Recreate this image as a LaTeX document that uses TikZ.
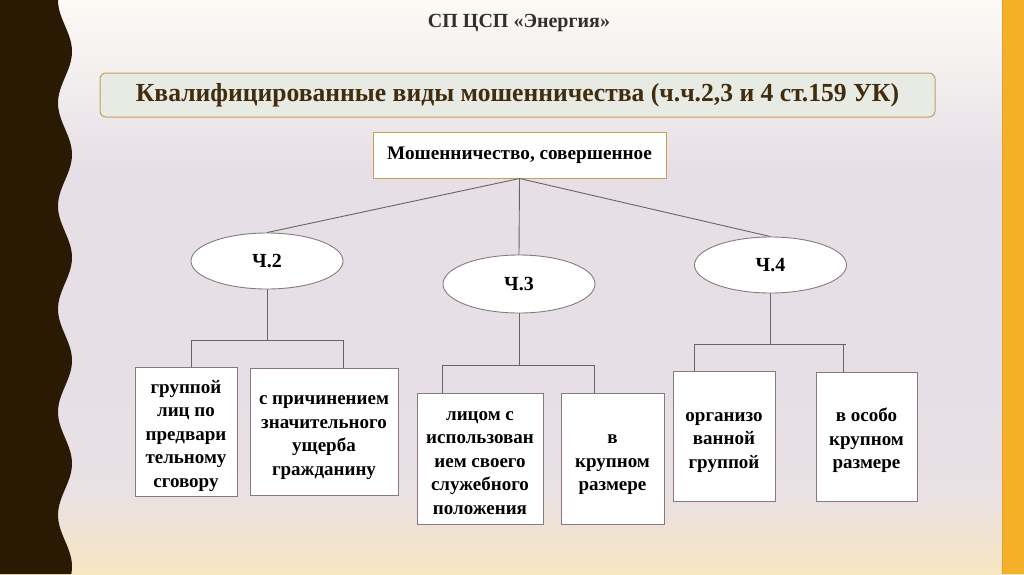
\documentclass[tikz,border=0pt]{standalone}
\usepackage{fontspec}
\setmainfont{Liberation Serif}
\usetikzlibrary{shapes.geometric,positioning}

\definecolor{stripbrown}{RGB}{42,26,4}
\definecolor{stripgold}{RGB}{244,176,40}
\definecolor{stripedge}{RGB}{226,160,36}
\definecolor{bgtop}{RGB}{252,250,245}
\definecolor{bgmid}{RGB}{230,223,230}
\definecolor{bgmidb}{RGB}{233,225,228}
\definecolor{bgbot}{RGB}{248,229,194}
\definecolor{headgray}{RGB}{50,48,46}
\definecolor{topicedge}{RGB}{196,160,90}
\definecolor{topicfill}{RGB}{232,234,228}
\definecolor{topictext}{RGB}{66,44,14}
\definecolor{rootedge}{RGB}{200,160,80}
\definecolor{boxedge}{RGB}{140,120,122}
\definecolor{linegray}{RGB}{105,100,100}

\pgfdeclareverticalshading{bgshade}{100bp}{color(0bp)=(bgbot); color(25bp)=(bgbot);
  color(32bp)=(bgmidb); color(42bp)=(bgmid); color(60bp)=(bgmid); color(75bp)=(bgtop); color(100bp)=(bgtop)}

\newcommand{\leaffont}{\fontsize{19}{23.5}\selectfont\bfseries}
% text of a leaf box, set a little low in its box
\newcommand{\leaftext}[1]{\raisebox{-4pt}[\height][\depth]{\begin{tabular}{@{}c@{}}#1\end{tabular}}}

\begin{document}
\begin{tikzpicture}[x=1pt, y=-1pt,
  link/.style={draw=linegray, line width=0.9pt},
  leaf/.style={draw=boxedge, fill=white, line width=0.9pt, align=center,
    font=\leaffont, inner sep=2pt},
  part/.style={ellipse, draw=boxedge, fill=white, line width=0.9pt,
    minimum width=152pt, minimum height=56pt, inner sep=0pt,
    font=\fontsize{20}{24}\selectfont\bfseries}]

  % Background and side strips
  \useasboundingbox (0,0) rectangle (1024,574);
  \shade[shading=bgshade] (0,0) rectangle (1024,574);
  \fill[stripbrown] (0,0) -- plot[domain=0:574, samples=160, variable=\t]
    ({65-7*cos(3.4951*\t)}, \t) -- (0,574) -- cycle;
  \fill[stripgold] (1002,0) rectangle (1024,574);
  \draw[stripedge, line width=1pt] (1002,0) -- (1002,574);

  % Headings
  \node[font=\fontsize{20}{24}\selectfont\bfseries, text=headgray] (head) at (519,23) {СП ЦСП «Энергия»};
  \node[draw=topicedge, fill=topicfill, rounded corners=6pt, line width=1pt,
    minimum width=835pt, minimum height=44pt, text=topictext,
    font=\fontsize{26}{30}\selectfont\bfseries] (topic) at (517.5,95)
    {\scalebox{0.985}[1]{Квалифицированные виды мошенничества (ч.ч.2,3 и 4 ст.159 УК)}};

  % Define nodes of the tree
  \node[draw=rootedge, fill=white, line width=1pt, minimum width=293pt, minimum height=46pt,
    font=\fontsize{19.2}{23}\selectfont\bfseries] (root) at (519.5,155)
    {Мошенничество, совершенное};
  \node[part] (p2) at (267,261) {Ч.2};
  \node[part, minimum height=58pt] (p3) at (519,284) {Ч.3};
  \node[part] (p4) at (770.5,265) {Ч.4};

  \node[leaf, minimum width=102pt, minimum height=129pt] (b21) at (186,431.5)
    {\leaftext{группой\\лиц по\\предвари\\тельному\\сговору}};
  \node[leaf, minimum width=148pt, minimum height=127pt] (b22) at (324,431.5)
    {\leaftext{с причинением\\значительного\\ущерба\\гражданину}};
  \node[leaf, minimum width=126pt, minimum height=131pt] (b31) at (480,458.5)
    {\leaftext{лицом с\\использован\\ием своего\\служебного\\положения}};
  \node[leaf, minimum width=103pt, minimum height=131pt] (b32) at (612.5,458.5)
    {\leaftext{в\\крупном\\размере}};
  \node[leaf, minimum width=102pt, minimum height=130pt] (b41) at (724,436)
    {\leaftext{организо\\ванной\\группой}};
  \node[leaf, minimum width=101pt, minimum height=129pt] (b42) at (866.5,436.5)
    {\leaftext{в особо\\крупном\\размере}};

  % Bar ends under each part
  \coordinate (h2l) at (191,340);
  \coordinate (h2r) at (343,340);
  \coordinate (h3l) at (442,365);
  \coordinate (h3r) at (594,365);
  \coordinate (h4l) at (694,344);
  \coordinate (h4r) at (846,344);

  % Draw connectors
  \draw[link] (root.south) -- (p2.north);
  \draw[link] (root.south) -- (p3.north);
  \draw[link] (root.south) -- (p4.north);

  \draw[link] (p2.south) -- (p2.south |- h2l);
  \draw[link] (h2l) -- (h2r);
  \draw[link] (h2l) -- (h2l |- b21.north);
  \draw[link] (h2r) -- (h2r |- b22.north);

  \draw[link] (p3.south) -- (p3.south |- h3l);
  \draw[link] (h3l) -- (h3r);
  \draw[link] (h3l) -- (h3l |- b31.north);
  \draw[link] (h3r) -- (h3r |- b32.north);

  \draw[link] (p4.south) -- (p4.south |- h4l);
  \draw[link] (h4l) -- (h4r);
  \draw[link] (h4l) -- (h4l |- b41.north);
  \draw[link] ([xshift=-3pt]h4r) -- ([xshift=-3pt]h4r |- b42.north);
\end{tikzpicture}
\end{document}
